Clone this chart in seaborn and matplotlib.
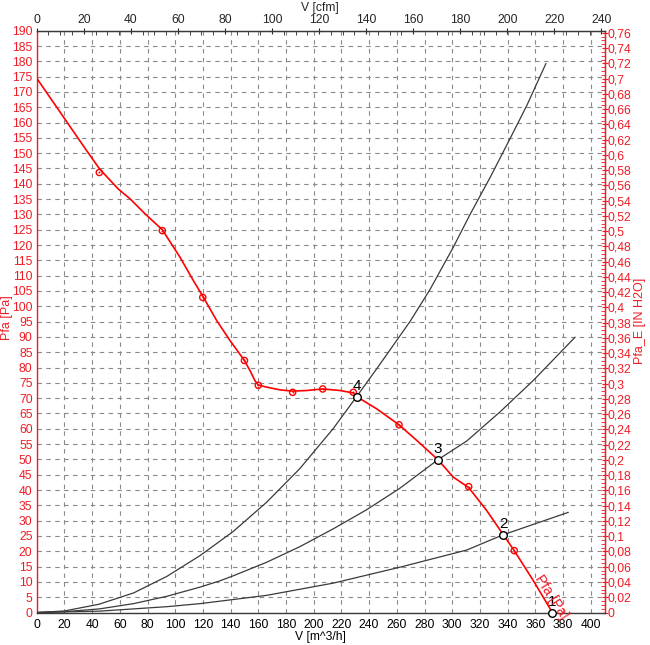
import numpy as np
import pandas as pd
import matplotlib
matplotlib.use('Agg')
import matplotlib.pyplot as plt
import seaborn as sns
from matplotlib.ticker import MultipleLocator, FuncFormatter

# ---------------- data ----------------
# fan curve Pfa [Pa] vs V [m^3/h]
fan_v = [0, 36.1, 45.5, 58.9, 67.4, 78.2, 90.7, 103.5, 113.1, 119.9, 130, 139.6,
         150, 154, 157.6, 160, 166, 175.7, 184.8, 195, 206.5, 219, 228.6, 231,
         245.5, 261.6, 274.4, 289.7, 300.8, 311.9, 324.9, 336.9, 344.8, 358.6, 372.3]
fan_p = [174.5, 150.8, 144.8, 138.3, 135.1, 130.2, 125.0, 116.0, 108.4, 103.3, 95.3, 88.8,
         82.3, 79.0, 75.7, 74.3, 73.6, 72.7, 72.3, 72.5, 73.0, 72.5, 71.7, 70.5,
         66.5, 61.3, 56.2, 49.9, 44.2, 40.8, 33.3, 25.4, 20.2, 10.4, 0]

# measured points
meas_v = [45.2, 90.7, 119.9, 150.0, 160.0, 184.8, 206.5, 228.6, 261.6, 311.9, 344.8]
meas_p = [143.7, 124.7, 102.9, 82.3, 74.2, 71.9, 73.0, 71.9, 61.3, 41.1, 20.2]

# operating points
op_v = [372.3, 336.9, 289.7, 231.0]
op_p = [0, 25.4, 49.9, 70.5]
op_labels = ["1", "2", "3", "4"]

# system curves
sysA_v = [0, 20, 45, 70, 94, 118, 142, 166, 190, 214, 231, 245.5, 269.5, 284, 300.8,
          312.9, 327.3, 341.7, 353.8, 367.7]
sysA_p = [0, 0.5, 2.7, 6.4, 11.8, 18.6, 26.5, 36.0, 47.0, 60.0, 70.5, 79.6, 95.0, 105.5,
          119.3, 130.0, 142.0, 154.7, 165.5, 179.3]
sysB_v = [0, 20, 45.7, 70, 94, 118, 132, 142, 166, 190, 214, 238, 262, 289.7, 310.5,
          334.5, 358.6, 388.7]
sysB_p = [0, 0.25, 1.2, 2.9, 5.3, 8.3, 10.3, 12.0, 16.4, 21.5, 27.3, 33.5, 40.5, 49.9,
          56.0, 65.5, 75.8, 89.9]
sysC_v = [0, 45.7, 94, 118, 132.3, 166, 214.2, 262.3, 310.5, 336.9, 383.8]
sysC_p = [0, 0.45, 1.9, 2.9, 3.7, 5.6, 9.6, 14.8, 20.4, 25.4, 32.7]

M3H_PER_CFM = 1.699
PA_PER_INH2O = 249.089

# ---------------- style ----------------
sns.set_style('white')
plt.rcParams['font.family'] = ['Liberation Sans', 'DejaVu Sans']
RED = '#ee1c25'
DARK = '#3a3a3a'
FS = 8.7

W, H = 650, 645
fig = plt.figure(figsize=(W / 100, H / 100), dpi=100)
L, R, T, B = 36.7, 605, 30.7, 612.5
ax = fig.add_axes([L / W, 1 - B / H, (R - L) / W, (B - T) / H])


def fx(px):
    return px / W


def fy(py):
    return 1 - py / H


# system curves
sys_df = pd.concat([
    pd.DataFrame({'V': sysA_v, 'P': sysA_p, 'curve': 'A'}),
    pd.DataFrame({'V': sysB_v, 'P': sysB_p, 'curve': 'B'}),
    pd.DataFrame({'V': sysC_v, 'P': sysC_p, 'curve': 'C'}),
])
sns.lineplot(data=sys_df, x='V', y='P', units='curve', estimator=None, sort=False,
             color=DARK, linewidth=0.9, ax=ax, zorder=3)

# fan curve
fan_df = pd.DataFrame({'V': fan_v, 'P': fan_p})
sns.lineplot(data=fan_df, x='V', y='P', sort=False, estimator=None,
             color='#ff0000', linewidth=1.2, ax=ax, zorder=4)

# measured markers
meas_df = pd.DataFrame({'V': meas_v, 'P': meas_p})
sns.scatterplot(data=meas_df, x='V', y='P', marker='o', s=20, facecolors='none',
                edgecolor='#ff0000', linewidth=1.0, ax=ax, zorder=5)
sns.scatterplot(data=meas_df, x='V', y='P', marker='o', s=2, color='#ff0000',
                linewidth=0, ax=ax, zorder=5)

# operating points
op_df = pd.DataFrame({'V': op_v, 'P': op_p, 'lab': op_labels})
sns.scatterplot(data=op_df, x='V', y='P', marker='o', s=30, color='white',
                edgecolor='black', linewidth=1.0, ax=ax, zorder=6, clip_on=False)
for v, p, lab in zip(op_v, op_p, op_labels):
    ax.annotate(lab, (v, p), xytext=(0, 2.5), textcoords='offset points',
                ha='center', va='bottom', fontsize=11, color='black', zorder=7)

ax.text(371.3, 5.2, 'Pfa [Pa]', color=RED, fontsize=10, rotation=-57,
        ha='center', va='center', rotation_mode='anchor', zorder=7)

# ---------------- axes ----------------
ax.set_xlim(0, (R - L) / 1.385)
ax.set_ylim(0, 190)
ax.xaxis.set_major_locator(MultipleLocator(20))
ax.xaxis.set_minor_locator(MultipleLocator(5))
ax.yaxis.set_major_locator(MultipleLocator(5))
ax.yaxis.set_minor_locator(MultipleLocator(1))
ax.grid(True, which='major', color='#8a8a8a', linestyle=(0, (4, 4)), linewidth=0.8)
ax.set_axisbelow(True)

ax.tick_params(axis='x', which='major', direction='inout', length=5, width=0.8,
               colors='black', labelsize=FS, pad=2)
ax.tick_params(axis='x', which='minor', direction='in', length=3, width=0.6, colors='black')
ax.tick_params(axis='y', which='major', direction='inout', length=5, width=0.8,
               colors=RED, labelsize=FS, pad=0.5)
ax.tick_params(axis='y', which='minor', direction='in', length=3, width=0.6, colors=RED)

ax.set_xlabel('V [m^3/h]', fontsize=FS, color='black')
ax.xaxis.set_label_coords(fx(320), fy(637), transform=fig.transFigure)
ax.xaxis.label.set_va('center')
ax.set_ylabel('Pfa [Pa]', fontsize=FS + 0.3, color=RED)
ax.yaxis.set_label_coords(fx(7), fy(318), transform=fig.transFigure)
ax.yaxis.label.set_va('center')

for s in ['left', 'right']:
    ax.spines[s].set_color(RED)
    ax.spines[s].set_linewidth(1.0)
for s in ['top', 'bottom']:
    ax.spines[s].set_color(DARK)
    ax.spines[s].set_linewidth(1.0)

# top axis (cfm)
top = ax.secondary_xaxis('top', functions=(lambda v: v / M3H_PER_CFM,
                                           lambda c: c * M3H_PER_CFM))
top.xaxis.set_major_locator(MultipleLocator(20))
top.xaxis.set_minor_locator(MultipleLocator(5))
top.tick_params(which='major', direction='inout', length=5, width=0.8, labelsize=FS, pad=1)
top.tick_params(which='minor', direction='in', length=3, width=0.6)
top.set_xlabel('V [cfm]', fontsize=FS)
top.xaxis.set_label_coords(fx(320), fy(8), transform=fig.transFigure)
top.xaxis.label.set_va('center')
top.spines['top'].set_color(DARK)

# right axis (in H2O)
right = ax.secondary_yaxis('right', functions=(lambda p: p / PA_PER_INH2O,
                                               lambda i: i * PA_PER_INH2O))
right.yaxis.set_major_locator(MultipleLocator(0.02))
right.yaxis.set_minor_locator(MultipleLocator(0.005))


def comma_fmt(val, pos):
    s = f"{val:.2f}".rstrip('0').rstrip('.')
    if s in ('-0', ''):
        s = '0'
    return s.replace('.', ',')


right.yaxis.set_major_formatter(FuncFormatter(comma_fmt))
right.tick_params(which='major', direction='inout', length=4, width=0.8, colors=RED,
                  labelsize=FS, pad=0)
right.tick_params(which='minor', direction='in', length=3, width=0.6, colors=RED)
right.spines['right'].set_color(RED)
right.set_ylabel('Pfa_E [IN H2O]', fontsize=FS + 0.3, color=RED)
right.yaxis.set_label_coords(fx(640), fy(321), transform=fig.transFigure)
right.yaxis.label.set_va('center')

fig.savefig('out.png', dpi=100)
